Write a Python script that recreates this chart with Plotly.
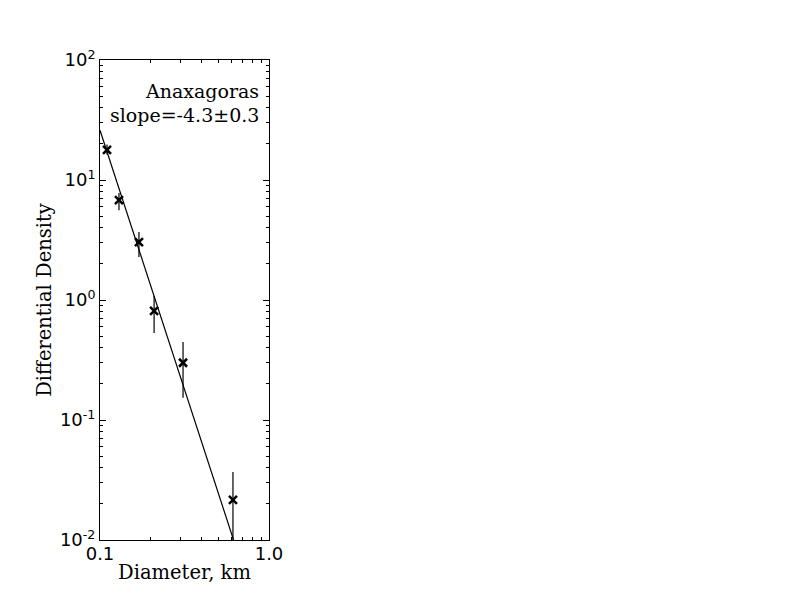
import plotly.graph_objects as go

# Data
diam = [0.110, 0.1295, 0.170, 0.209, 0.310, 0.612]
density = [17.8, 6.8, 3.04, 0.81, 0.30, 0.0216]
err_plus = [2.0, 1.0, 0.65, 0.27, 0.147, 0.0153]
err_minus = [1.5, 1.2, 0.76, 0.28, 0.147, 0.0125]

fit_x = [0.1, 0.62]
fit_y = [26.0, 0.0098]

label_name = "Anaxagoras"
label_slope = "slope=-4.3±0.3"

ytickvals = [0.01, 0.1, 1, 10, 100]
yticktext = ["10<sup>-2</sup>", "10<sup>-1</sup>", "10<sup>0</sup>", "10<sup>1</sup>", "10<sup>2</sup>"]
xtickvals = [0.1, 1.0]
xticktext = ["0.1", "1.0"]

yminor = [m * 10.0 ** e for e in range(-2, 2) for m in range(2, 10)]
xminor = [m * 0.1 for m in range(2, 10)]

fig = go.Figure()
fig.add_trace(go.Scatter(
    x=fit_x, y=fit_y, mode="lines",
    line=dict(color="black", width=1.2), showlegend=False, hoverinfo="skip"))
fig.add_trace(go.Scatter(
    x=diam, y=density, mode="markers",
    marker=dict(symbol="x-thin", size=8, color="black",
                line=dict(width=2.5, color="black")),
    error_y=dict(type="data", symmetric=False, array=err_plus, arrayminus=err_minus,
                 color="black", thickness=1.2, width=0),
    showlegend=False))

fig.add_annotation(xref="paper", yref="paper", x=0.953, y=0.935, text=label_name,
                   showarrow=False, xanchor="right", yanchor="middle",
                   font=dict(family="DejaVu Serif", size=19, color="black"))
fig.add_annotation(xref="paper", yref="paper", x=0.953, y=0.885, text=label_slope,
                   showarrow=False, xanchor="right", yanchor="middle",
                   font=dict(family="DejaVu Serif", size=19, color="black"))

axis_common = dict(showline=True, linecolor="black", linewidth=1, mirror="allticks",
                   ticks="inside", ticklen=6, tickcolor="black", tickwidth=1,
                   showgrid=False, zeroline=False, automargin=False,
                   tickfont=dict(family="DejaVu Sans", size=18, color="black"))

fig.update_xaxes(type="log", range=[-1, 0], tickmode="array", tickvals=xtickvals,
                 ticktext=xticktext, ticklabelstandoff=-3,
                 minor=dict(tickmode="array", tickvals=xminor, ticks="inside", ticklen=3,
                            tickcolor="black", showgrid=False),
                 title=dict(text="Diameter, km", standoff=2,
                            font=dict(family="DejaVu Serif", size=19.5, color="black")),
                 **axis_common)
fig.update_yaxes(type="log", range=[-2, 2], tickmode="array", tickvals=ytickvals,
                 ticktext=yticktext,
                 minor=dict(tickmode="array", tickvals=yminor, ticks="inside", ticklen=3,
                            tickcolor="black", showgrid=False),
                 title=dict(text="Differential Density", standoff=3,
                            font=dict(family="DejaVu Serif", size=19.5, color="black")),
                 **axis_common)

fig.update_layout(width=800, height=600, margin=dict(l=92, r=539, t=52, b=68),
                  plot_bgcolor="white", paper_bgcolor="white")

fig.write_html("out.html")
